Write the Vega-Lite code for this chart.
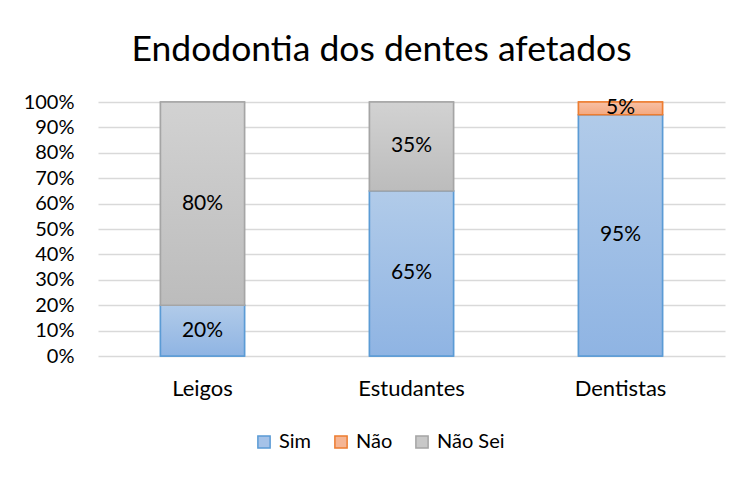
{
  "$schema": "https://vega.github.io/schema/vega-lite/v6.json",
  "width": 627,
  "height": 254,
  "autosize": "none",
  "padding": {"left": 98, "top": 102, "right": 19, "bottom": 121},
  "background": "white",
  "title": {"text": "Endodontia dos dentes afetados", "fontSize": 35.5, "font": "Lato", "fontWeight": "normal", "color": "#000000", "offset": 24, "dx": -30, "anchor": "middle"},
  "data": {"values": [
    {"grupo": "Leigos", "resposta": "Sim", "valor": 0.20, "ordem": 1},
    {"grupo": "Leigos", "resposta": "Não Sei", "valor": 0.80, "ordem": 3},
    {"grupo": "Estudantes", "resposta": "Sim", "valor": 0.65, "ordem": 1},
    {"grupo": "Estudantes", "resposta": "Não Sei", "valor": 0.35, "ordem": 3},
    {"grupo": "Dentistas", "resposta": "Sim", "valor": 0.95, "ordem": 1},
    {"grupo": "Dentistas", "resposta": "Não", "valor": 0.05, "ordem": 2}
  ]},
  "transform": [
    {"stack": "valor", "groupby": ["grupo"], "sort": [{"field": "ordem"}], "as": ["y0", "y1"]},
    {"calculate": "(datum.y0 + datum.y1) / 2", "as": "ymid"}
  ],
  "resolve": {"axis": {"y": "independent"}},
  "config": {
    "font": "Lato",
    "view": {"stroke": null},
    "axis": {"labelFont": "Lato", "labelFontSize": 20, "labelColor": "#000000"},
    "legend": {"labelFont": "Lato", "labelFontSize": 20, "labelColor": "#000000"}
  },
  "encoding": {
    "x": {"field": "grupo", "type": "nominal", "sort": ["Leigos", "Estudantes", "Dentistas"],
      "scale": {"paddingInner": 0.598, "paddingOuter": 0.299},
      "axis": {"title": null, "labelAngle": 0, "domain": false, "ticks": false, "labelPadding": 22, "labelFontSize": 22}}
  },
  "layer": [
    {
      "mark": {"type": "bar", "strokeWidth": 1.5},
      "encoding": {
        "y": {"field": "y0", "type": "quantitative", "scale": {"domain": [0, 1], "nice": false},
          "axis": {"title": null, "format": ".0%", "values": [0, 0.1, 0.2, 0.3, 0.4, 0.5, 0.6, 0.7, 0.8, 0.9, 1], "labelOverlap": false, "tickCount": 20, "domain": false, "ticks": false, "labelPadding": 24, "gridColor": "#d9d9d9", "gridWidth": 1.5}},
        "y2": {"field": "y1"},
        "fill": {"field": "resposta", "type": "nominal",
          "scale": {"domain": ["Sim", "Não", "Não Sei"], "range": ["#a5c2e8", "#f5b594", "#c8c8c8"]},
          "legend": {"title": null, "orient": "none", "legendX": 156, "legendY": 330, "direction": "horizontal", "symbolType": "square", "symbolSize": 150, "symbolStrokeWidth": 1.5, "columnPadding": 19, "labelOffset": 5}},
        "stroke": {"field": "resposta", "type": "nominal",
          "scale": {"domain": ["Sim", "Não", "Não Sei"], "range": ["#5b9bd5", "#ed7d31", "#a5a5a5"]}}
      }
    },
    {
      "transform": [{"filter": "datum.resposta === 'Sim'"}],
      "mark": {"type": "bar", "stroke": "#5b9bd5", "strokeWidth": 1.5,
        "fill": {"gradient": "linear", "x1": 0, "y1": 0, "x2": 0, "y2": 1, "stops": [{"offset": 0, "color": "#b1cbe9"}, {"offset": 1, "color": "#8fb4e3"}]}},
      "encoding": {"y": {"field": "y0", "type": "quantitative", "axis": null}, "y2": {"field": "y1"}}
    },
    {
      "transform": [{"filter": "datum.resposta === 'Não'"}],
      "mark": {"type": "bar", "stroke": "#ed7d31", "strokeWidth": 1.5,
        "fill": {"gradient": "linear", "x1": 0, "y1": 0, "x2": 0, "y2": 1, "stops": [{"offset": 0, "color": "#f7c0a5"}, {"offset": 1, "color": "#f4a87f"}]}},
      "encoding": {"y": {"field": "y0", "type": "quantitative", "axis": null}, "y2": {"field": "y1"}}
    },
    {
      "transform": [{"filter": "datum.resposta === 'Não Sei'"}],
      "mark": {"type": "bar", "stroke": "#a5a5a5", "strokeWidth": 1.5,
        "fill": {"gradient": "linear", "x1": 0, "y1": 0, "x2": 0, "y2": 1, "stops": [{"offset": 0, "color": "#d2d2d2"}, {"offset": 1, "color": "#bcbcbc"}]}},
      "encoding": {"y": {"field": "y0", "type": "quantitative", "axis": null}, "y2": {"field": "y1"}}
    },
    {
      "mark": {"type": "text", "fontSize": 21, "font": "Lato", "color": "#000000", "baseline": "middle"},
      "encoding": {
        "y": {"field": "ymid", "type": "quantitative", "axis": null},
        "text": {"field": "valor", "type": "quantitative", "format": ".0%"}
      }
    }
  ]
}
